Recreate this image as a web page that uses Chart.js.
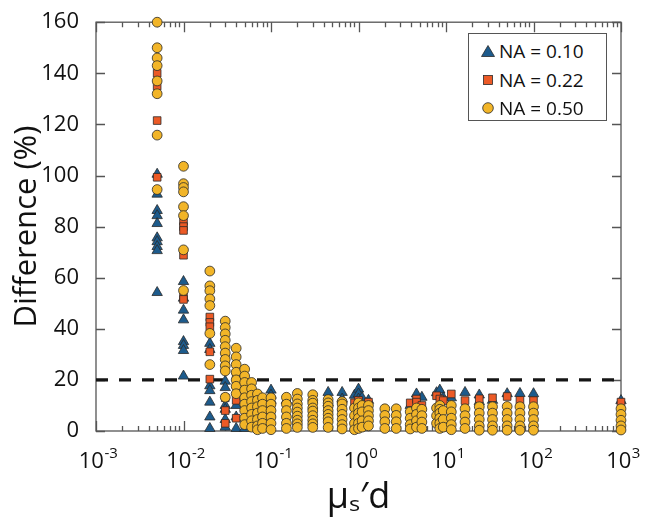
<!DOCTYPE html>
<html><head><meta charset="utf-8">
<script src="https://cdn.jsdelivr.net/npm/chart.js@4/dist/chart.umd.min.js"></script>
<style>
html,body{margin:0;padding:0;background:#fff;}
#wrap{position:relative;width:647px;height:519px;overflow:hidden;}
#legend{position:absolute;left:468px;top:33px;width:139px;height:88px;border:1px solid #555;background:#fff;box-sizing:border-box;font-family:'Open Sans',sans-serif;font-size:19px;color:#111;}
.row{position:absolute;left:0;width:100%;height:28px;}
.row svg{position:absolute;left:11px;top:7px;}
.row span{position:absolute;left:30px;top:0;line-height:28px;white-space:nowrap;}
</style></head>
<body><div id="wrap"><canvas id="c" width="647" height="519"></canvas>
<div id="legend">
 <div class="row" style="top:3px"><svg width="16" height="14"><polygon points="8,1.5 14.5,12.5 1.5,12.5" fill="#1d5b8c" stroke="#2a2a2a" stroke-width="0.8"/></svg><span id="l0"></span></div>
 <div class="row" style="top:32px"><svg width="16" height="14"><rect x="3.5" y="2.5" width="9" height="9" fill="#ec5a26" stroke="#2a2a2a" stroke-width="0.8"/></svg><span id="l1"></span></div>
 <div class="row" style="top:60px"><svg width="16" height="14"><circle cx="8" cy="7" r="5.3" fill="#f2b528" stroke="#2a2a2a" stroke-width="0.8"/></svg><span id="l2"></span></div>
</div></div>
<script>
// ---- data ----
const muD = [0.005,0.01,0.02,0.03,0.04,0.05,0.06,0.07,0.08,0.1,0.15,0.2,0.3,0.45,0.65,0.9,1.0,1.1,1.3,2.0,2.7,3.9,4.6,5.3,7.8,8.5,9.3,11.5,16.5,24,34,50,70,100,1000];
const diffNA010 = [
 [100.5,92.7,86.3,84.3,81.2,75.6,74.1,72.2,70.6,54.2],
 [58.5,52,47.3,43.5,35,33.5,31.5,21.5],
 [34.3,31.9,17.7,15.8,11.3,5.5,1],
 [19.5,17,10,8.5,4.5,1.5],
 [10,5.5,1],[5.5,1],[3],[2],[1],
 [16,14,12],[12],[],[],
 [15.1,11],[15.1,12.5],[14],[16.4,14.5,12.5],[13],[12],[],[],
 [10],[14.5],[13.2],[15],[16],[13],[13],[15.1],[14.1,11.5],[12],[14.6],[14.7],[14.6],[11.9]
];
const diffNA022 = [
 [140,135,121.5,99.3],
 [82,80,78.5,68.8,52.7,51.5],
 [44.6,42.5,40.8,31,20.3],
 [28.5,26.5,24.6,13,8,3],
 [22,18,12,5],[15,9,3],[12,5],[10,4],[8,2],
 [10,6],[12],[8],[7],[8],[9],[11],[12,10],[],[11.3],[5],[6],
 [11],[12.5,11.3],[10],[13.8],[12.5],[11.9],[14.5],[11.9],[12.6],[13],[13.5],[12],[11.9],[11.3]
];
const diffNA050 = [
 [160,150,146,143,137,132,115.8,94.5],
 [103.6,96.8,95.3,93.6,87.8,84.3,70.9,55],
 [62.6,56.8,54.9,51.7,49.1,38.2,26],
 [43,40.5,38,35.5,33,30.5,28,25.5,23.5,13.2],
 [32.4,29,26,23,20,17.5,14.6],
 [24.2,21.5,19,16,13,10.5,8,5,2.5],
 [19,16.5,14,11.5,9,6.5,4,1.5],
 [14.5,12,9.5,7,4.5,2,0.5],
 [13,10.5,8,5.5,3,1],
 [13,10.5,8,5.5,3,0.5],
 [13.2,10.5,8,5.5,3,1],
 [14.7,12.5,10.6,9,7.4,5.8,4.2,2.8,1.4],
 [14.2,12,10.9,9,7.8,6,4.2,2.8,1.4],
 [12.3,11,9.7,8,6.5,5,3.6,1.4],
 [11.5,10.6,8.5,6.5,4.5,2.5,0.8],
 [9,6,3,0.5],
 [11,9,7,5,3,1],
 [10,7.5,4,1.5],
 [10,8,6,4,2],
 [8.7,6.1,3.6,1.0],
 [8.7,6.1,3.6,1.0],
 [7.5,5,2.5,0.8],
 [9,6.5,4,1.5],
 [8.5,6,3.5,1],
 [9,6,3],
 [10,8.5,7,5,3,1],
 [8,4.5,1.5],
 [10,7.5,5,2.5,0.5],
 [8.7,6,3.5,1],
 [9.5,7,4.5,2,0.3],
 [9.5,7,4.5,2,0.3],
 [9.6,7,4.5,2,0.3],
 [9.5,7,4.5,2,0.3],
 [9.5,7,4.5,2,0.3],
 [8.7,6.5,4.2,2,0.4]
];
const seriesLabels = ['NA = 0.10','NA = 0.22','NA = 0.50'];
const xTickExponents = [-3,-2,-1,0,1,2,3];
const yTickValues = [0,20,40,60,80,100,120,140,160];
const thresholdX = [0.001,1000];
const thresholdY = [20,20];
const xTitle = 'μₛ′d';
const yTitle = 'Difference (%)';

// ---- build ----
seriesLabels.forEach((t,i)=>document.getElementById('l'+i).textContent=t);
function toPoints(cols){const p=[];cols.forEach((ys,i)=>ys.forEach(y=>p.push({x:muD[i],y:y})));return p;}
const FONT="'Open Sans', sans-serif";
const AX='#555';

const boxTicks={id:'boxTicks',beforeDatasetsDraw(chart){
  const {ctx,chartArea:a,scales:{x,y}}=chart;
  ctx.save();ctx.strokeStyle=AX;ctx.lineWidth=1.3;
  ctx.strokeRect(a.left,a.top,a.right-a.left,a.bottom-a.top);
  ctx.beginPath();
  yTickValues.forEach(v=>{const py=Math.round(y.getPixelForValue(v))+0.5;
    ctx.moveTo(a.left,py);ctx.lineTo(a.left+9,py);ctx.moveTo(a.right,py);ctx.lineTo(a.right-9,py);});
  for(let e=-3;e<=3;e++){
    const px=Math.round(x.getPixelForValue(Math.pow(10,e)))+0.5;
    ctx.moveTo(px,a.bottom);ctx.lineTo(px,a.bottom-10);ctx.moveTo(px,a.top);ctx.lineTo(px,a.top+10);
    if(e<3){for(let m=2;m<=9;m++){const qx=Math.round(x.getPixelForValue(m*Math.pow(10,e)))+0.5;
      ctx.moveTo(qx,a.bottom);ctx.lineTo(qx,a.bottom-5);ctx.moveTo(qx,a.top);ctx.lineTo(qx,a.top+5);}}
  }
  ctx.stroke();ctx.restore();
}};
// power-of-ten tick labels with a raised exponent
const powLabels={id:'powLabels',afterDraw(chart){
  const {ctx,chartArea:a,scales:{x}}=chart;
  ctx.save();ctx.fillStyle='#111';ctx.textBaseline='alphabetic';ctx.textAlign='left';
  const base='22px '+FONT, expo='15px '+FONT;
  x.ticks.forEach(t=>{
    const e=Math.round(Math.log10(t.value));const es=String(e);
    ctx.font=base;const w1=ctx.measureText('10').width;
    ctx.font=expo;const w2=ctx.measureText(es).width;
    const px=x.getPixelForValue(t.value);const x0=px-(w1+w2)/2+2;
    const by=a.bottom+37;
    ctx.font=base;ctx.fillText('10',x0,by);
    ctx.font=expo;ctx.fillText(es,x0+w1+0.5,by-10);
  });
  ctx.restore();
}};

new Chart(document.getElementById('c'),{
  type:'scatter',
  data:{datasets:[
    {type:'line',label:'threshold',data:thresholdX.map((v,i)=>({x:v,y:thresholdY[i]})),borderColor:'#151515',borderWidth:3.2,borderDash:[12,11],pointRadius:0,fill:false,order:4,clip:false},
    {label:seriesLabels[0],data:toPoints(diffNA010),pointStyle:'triangle',pointRadius:6,backgroundColor:'#1d5b8c',borderColor:'#2a2a2a',borderWidth:0.8,order:3,clip:false},
    {label:seriesLabels[1],data:toPoints(diffNA022),pointStyle:'rect',pointRadius:5.4,backgroundColor:'#ec5a26',borderColor:'#2a2a2a',borderWidth:0.8,order:2,clip:false},
    {label:seriesLabels[2],data:toPoints(diffNA050),pointStyle:'circle',pointRadius:4.9,backgroundColor:'#f2b528',borderColor:'#2a2a2a',borderWidth:0.8,order:1,clip:false}
  ]},
  options:{
    responsive:false,animation:false,events:[],devicePixelRatio:1,
    layout:{padding:{left:0,right:26,top:15,bottom:0}},
    plugins:{legend:{display:false},tooltip:{enabled:false}},
    scales:{
      x:{type:'logarithmic',position:'bottom',min:0.001,max:1000,
        grid:{display:false},border:{display:false},
        afterBuildTicks:s=>{s.ticks=xTickExponents.map(e=>({value:Math.pow(10,e)}));},
        afterFit:s=>{s.height=88;},
        ticks:{display:false,autoSkip:false,maxRotation:0,callback:v=>'10^'+Math.round(Math.log10(v))},
        title:{display:true,text:xTitle,color:'#111',font:{family:FONT,size:36},padding:{top:0,bottom:0}}},
      y:{type:'linear',min:0,max:160,
        grid:{display:false},border:{display:false},
        afterBuildTicks:s=>{s.ticks=yTickValues.map(v=>({value:v}));},
        afterFit:s=>{s.width=96;},
        ticks:{padding:9,color:'#111',font:{family:FONT,size:22}},
        title:{display:true,text:yTitle,color:'#111',font:{family:FONT,size:31},padding:{top:9,bottom:0}}}
    }
  },
  plugins:[boxTicks,powLabels]
});
</script>
</body></html>
